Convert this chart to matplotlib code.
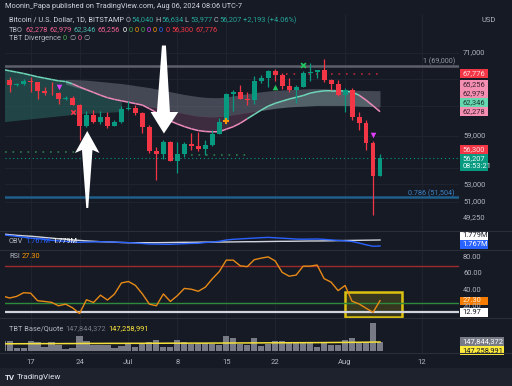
import numpy as np
import matplotlib
matplotlib.use("Agg")
import matplotlib.pyplot as plt
import matplotlib.transforms as mtransforms
from matplotlib.collections import LineCollection
from matplotlib.patches import Rectangle, Polygon
from matplotlib.ticker import NullLocator, NullFormatter

plt.rcParams['font.family'] = ['Roboto', 'DejaVu Sans']

# ------------------------------------------------------------------ data
# day index relative to Jun 17, 2024 (Jun 13 .. Aug 06)
day_index = list(range(-4, 51))
opens = [68240, 66760, 66010, 66200, 66650, 66500, 65170, 64970, 64860, 64100,
         64260, 63190, 60270, 61800, 60850, 61610, 60320, 60890, 62670, 62850,
         62030, 60200, 57040, 56650, 58240, 55850, 56700, 57980, 57720, 57330,
         57890, 59200, 60800, 64720, 65080, 64090, 63970, 66680, 67130, 68180,
         67550, 65940, 65380, 65800, 67900, 68000, 68250, 66800, 66200, 64600,
         65350, 61500, 60700, 58100, 54040]
highs = [68460, 67300, 66440, 66990, 67240, 66560, 65730, 66480, 65070, 64520,
         64520, 63370, 62340, 62480, 62370, 62180, 61150, 63000, 63800, 63270,
         62280, 60500, 57530, 58470, 58350, 58200, 58270, 59400, 59500, 58500,
         59800, 61380, 64900, 65370, 66100, 65100, 67400, 67600, 68350, 68460,
         67800, 67100, 66100, 68200, 69400, 68300, 70000, 66990, 66800, 65600,
         65600, 62200, 61100, 58300, 56634]
lows = [66300, 65070, 65880, 66060, 65100, 64070, 64690, 64560, 63400, 63940,
        63200, 58440, 60230, 60770, 60600, 60020, 60290, 60700, 62500, 61780,
        59440, 56800, 53500, 56050, 55750, 54300, 56300, 57160, 57100, 56620,
        57760, 59200, 60660, 62400, 64000, 63240, 63300, 66450, 65800, 66600,
        65450, 65100, 63450, 65750, 66700, 67050, 66550, 65300, 64520, 62300,
        61200, 59850, 57200, 49500, 53977]
closes = [66760, 66010, 66200, 66650, 66500, 65170, 64970, 64860, 64100, 64260,
          63190, 60270, 61800, 60850, 61610, 60320, 60890, 62670, 62850, 62030,
          60200, 57040, 56650, 58240, 55850, 56700, 57980, 57720, 57330, 57890,
          59200, 60800, 64720, 65080, 64090, 63970, 66680, 67130, 68180, 67550,
          65940, 65380, 65800, 67900, 68000, 68250, 66800, 66200, 64600, 65350,
          61500, 60700, 58100, 54040, 56207]

# TBO indicator lines
tbo_fast = [68400, 68200, 68000, 67800, 67550, 67300, 67100, 66900, 66700, 66600,
            66250, 65800, 65400, 65000, 64600, 64250, 64000, 63800, 63600, 63400,
            63200, 62700, 62150, 61500, 61000, 60600, 60250, 59950, 59720, 59600,
            59550, 59570, 59900, 60230, 60700, 61300, 61900, 62500, 63050, 63450,
            63750, 64050, 64300, 64550, 64900, 65100, 65230, 65250, 65250, 65200,
            65050, 64600, 63900, 63100, 62278]
tbo_fast_up = [1] * 10 + [0] * 25 + [1] * 16 + [0] * 4
tbo_band_top = [None] * 9 + [
            66900, 66900, 66850, 66800, 66700, 66600, 66500, 66400, 66300, 66150,
            66000, 65850, 65700, 65500, 65300, 65100, 64900, 64700, 64550, 64400,
            64300, 64250, 64250, 64350, 64500, 64650, 64800, 64950, 65100, 65200,
            65300, 65350, 65400, 65450, 65500, 65550, 65550, 65550, 65500, 65450,
            65400, 65350, 65300, 65280, 65260, 65256]
tbo_band_bot = [None] * 9 + [
            66200, 65900, 65600, 65300, 65000, 64700, 64400, 64150, 63900, 63650,
            63400, 63200, 63000, 62800, 62600, 62400, 62200, 62000, 61800, 61650,
            61600, 61550, 61600, 61700, 61850, 62000, 62150, 62300, 62450, 62600,
            62750, 62850, 62950, 63000, 63050, 63100, 63150, 63150, 63150, 63150,
            63150, 63100, 63050, 63020, 63000, 62979]
tbo_slow = [60900, 61000, 61100, 61200, 61300, 61400, 61500, 61600, 61700, 61800,
            61900, 62000, 62050, 62100, 62150, 62200, 62250, 62300] + [None] * 37

# signals (day, price)
sig_bear_days, sig_bear_px = [4, 49], [65790, 59100]
sig_cross_red = (6, 62290)
sig_cross_green = (39, 69070)
sig_diamond = (28, 60960)
sig_bull = (35, 65820)
level_green_1 = (-3.6, 6.4, 56890)
level_green_2 = (23, 31.4, 56600)
level_red = (36.6, 50.4, 67776)
fib_top, fib_786 = 69000, 51504
last_price = 56207

volume_m = [164, 164, 54, 44, 164, 143, 71, 143, 98, 28,
            44, 241, 164, 98, 98, 98, 44, 82, 136, 71,
            110, 143, 180, 71, 61, 180, 143, 115, 126, 126,
            110, 98, 246, 208, 110, 98, 208, 82, 110, 169,
            164, 126, 126, 126, 126, 61, 153, 98, 98, 180,
            208, 126, 153, 454, 148]
volume_ma_m = [118, 118, 119, 119, 120, 120, 121, 121, 121, 122,
               122, 123, 124, 124, 124, 125, 125, 125, 126, 126,
               126, 127, 127, 127, 128, 128, 128, 129, 129, 129,
               130, 130, 131, 131, 132, 132, 133, 133, 134, 134,
               135, 135, 136, 136, 137, 137, 138, 139, 140, 141,
               142, 143, 144, 146, 147.26]
rsi_values = [33, 30.5, 32.5, 37, 36.5, 27.2, 26.3, 25.2, 21, 23,
              18.5, 11.5, 28.4, 25, 34, 28, 35.3, 49, 50.8, 46,
              35.5, 23, 21, 35.5, 26.3, 33.4, 42.3, 41.3, 38.8, 43.8,
              54, 63, 77, 77, 70, 69, 77.5, 79.5, 81, 76,
              62, 57.3, 58.7, 69.6, 69.6, 71, 54.3, 50, 39.6, 45.9,
              26.5, 23.3, 18, 12.97, 27.3]
obv_m = [1.7894, 1.788, 1.7864, 1.7846, 1.7828, 1.7818, 1.7802, 1.7784, 1.7772, 1.7764,
         1.7752, 1.7744, 1.7748, 1.7752, 1.7756, 1.7752, 1.7748, 1.7742, 1.7738, 1.773,
         1.772, 1.771, 1.7708, 1.7704, 1.7704, 1.771, 1.7716, 1.7722, 1.7724, 1.774,
         1.775, 1.7764, 1.779, 1.7804, 1.7812, 1.782, 1.7828, 1.7836, 1.7842, 1.7834,
         1.7826, 1.7818, 1.7808, 1.7806, 1.7808, 1.781, 1.7802, 1.7792, 1.7782, 1.7772,
         1.776, 1.773, 1.7694, 1.7665, 1.767]
obv_ma_m = [1.791, 1.7896, 1.7884, 1.7874, 1.7866, 1.7854, 1.784, 1.7828, 1.7814, 1.7804,
            1.7792, 1.7782, 1.7772, 1.7764, 1.7756, 1.7752, 1.7746, 1.774, 1.7736, 1.7736,
            1.7736, 1.7736, 1.7736, 1.7738, 1.774, 1.7742, 1.7744, 1.7744, 1.7746, 1.7748,
            1.7748, 1.775, 1.775, 1.7752, 1.7754, 1.7756, 1.7756, 1.7758, 1.776, 1.7762,
            1.7764, 1.7764, 1.7766, 1.7768, 1.777, 1.777, 1.7772, 1.7774, 1.7778, 1.778,
            1.7782, 1.7784, 1.7786, 1.7788, 1.779]
rsi_upper, rsi_lower, rsi_floor = 70, 25, 12.97
rsi_box = (45.0, 53.1, 7.5, 37.5)

tick_days = [0, 7, 14, 21, 28, 35, 45, 56]
tick_labels = ['17', '24', 'Jul', '8', '15', '22', 'Aug', '12']
price_ticks = [71000, 67000, 63000, 59000, 55000, 53000, 51000]
price_tick_labels = ['71,000', '', '', '59,000', '', '53,000', '51,000']

# ------------------------------------------------------------------ style
W, H = 512, 386
BG = '#161a25'
TXT = '#b2b5be'
BULL, BEAR = '#089981', '#f23645'
fig = plt.figure(figsize=(W / 100, H / 100), dpi=100)
fig.patch.set_facecolor(BG)
renderer = fig.canvas.get_renderer()

def fy(py):
    return 1 - py / H

X0, X1 = 5, 459
def add_pane(top, bottom, log=False):
    ax = fig.add_axes([X0 / W, fy(bottom), (X1 - X0) / W, (bottom - top) / H])
    ax.set_facecolor(BG)
    if log:
        ax.set_yscale('log')
    for s in ax.spines.values():
        s.set_visible(False)
    ax.xaxis.set_major_locator(NullLocator()); ax.xaxis.set_minor_locator(NullLocator())
    ax.yaxis.set_major_locator(NullLocator()); ax.yaxis.set_minor_locator(NullLocator())
    ax.yaxis.set_major_formatter(NullFormatter()); ax.yaxis.set_minor_formatter(NullFormatter())
    ax.tick_params(which='both', left=False, bottom=False, labelleft=False, labelbottom=False)
    ax.set_xlim(-3.66, 61.3)
    for dd in tick_days:
        ax.axvline(dd, color='#1f2330', lw=0.8, zorder=0)
    return ax

ax_p = add_pane(14, 231, log=True)
ax_o = add_pane(231, 250)
ax_r = add_pane(250, 318)
ax_v = add_pane(318, 353)

d = np.array(day_index, dtype=float)
o = np.array(opens, float); c = np.array(closes, float)
hi = np.array(highs, float); lo = np.array(lows, float)

# ---- price pane
ax_p.set_ylim(47770, 77380)
for pt in price_ticks:
    ax_p.axhline(pt, color='#1f2330', lw=0.8, zorder=0)

def arr(v):
    return np.array([np.nan if x is None else x for x in v], float)

fast = arr(tbo_fast); top = arr(tbo_band_top); bot = arr(tbo_band_bot); slow = arr(tbo_slow)
ax_p.fill_between(d, fast, slow, where=~np.isnan(slow), color='#2b6a62', alpha=0.55, lw=0, zorder=1)
ax_p.fill_between(d, top, bot, where=~np.isnan(top), color='#7d8290', alpha=0.45, lw=0, zorder=1)
ax_p.fill_between(d, bot, fast, where=(fast < bot), interpolate=True, color='#6e4160', alpha=0.45, lw=0, zorder=1)
ax_p.fill_between(d, fast, bot, where=(fast > bot) & (d > 20), interpolate=True, color='#7fa9a0', alpha=0.25, lw=0, zorder=1)

pts = np.column_stack([d, fast])
segs = np.stack([pts[:-1], pts[1:]], axis=1)
seg_cols = ['#6fd6b8' if u else '#ec8bbb' for u in tbo_fast_up[:-1]]
ax_p.add_collection(LineCollection(segs, colors=seg_cols, lw=1.1, zorder=2))

# levels
ax_p.axhline(fib_top, color='#5d606b', lw=1.8, zorder=2)
ax_p.axhline(fib_786, color='#1f5f8b', lw=1.8, zorder=2)
ax_p.axhline(last_price, color=BULL, lw=0.8, ls=(0, (1, 2.5)), zorder=2)
for (a, b, v), col in [(level_green_1, '#2e7d4f'), (level_green_2, '#2e7d4f'), (level_red, '#b02a37')]:
    ax_p.plot([a, b], [v, v], color=col, lw=1.2, ls=(0, (1, 3.5)), zorder=2)

# candles
cols = np.where(c >= o, BULL, BEAR)
ax_p.vlines(d, lo, hi, colors=cols, lw=0.9, zorder=3)
body_h = np.maximum(np.abs(c - o), c * 0.0012)
ax_p.bar(d, body_h, bottom=np.minimum(o, c), width=0.7, color=cols, lw=0, zorder=4)

# signals
ax_p.scatter(sig_bear_days, sig_bear_px, marker='v', s=16, color='#e040fb', zorder=5, lw=0)
ax_p.scatter([sig_cross_red[0]], [sig_cross_red[1]], marker='x', s=10, color='#f23645', lw=1.1, zorder=5)
ax_p.scatter([sig_cross_green[0]], [sig_cross_green[1]], marker='x', s=12, color='#22c55e', lw=1.3, zorder=5)
ax_p.scatter([sig_diamond[0]], [sig_diamond[1]], marker='P', s=18, color='#ff9800', lw=0, zorder=5)
ax_p.scatter([sig_bull[0]], [sig_bull[1]], marker='^', s=16, color='#22c55e', lw=0, zorder=5)

# fib labels
tr_p = mtransforms.blended_transform_factory(fig.transFigure, ax_p.transData)
fig.text(455 / W, fib_top, '1 (69,000)', transform=tr_p, ha='right', va='bottom', fontsize=5.2, color='#9598a1')
fig.text(455 / W, fib_786, '0.786 (51,504)', transform=tr_p, ha='right', va='bottom', fontsize=5.2, color='#3b82c4')

# white arrows (annotation shapes anchored at price/day points)
def arrow(day, price, pts_px):
    tx, ty = ax_p.transData.transform((day, price))
    verts = [(tx + px, ty - py) for px, py in pts_px]
    fig.patches.append(Polygon(verts, closed=True, fc='white', ec='none', transform=None, zorder=10))

arrow(8.11, 59660, [(0, 0), (12.2, 22), (5.2, 19), (1.0, 77), (-1.0, 77), (-5.3, 19), (-12.3, 22)])
arrow(19.08, 59330, [(0, 0), (14.3, -21.5), (6, -21.5), (2, -88), (-2, -88), (-7, -21.5), (-13.3, -21.5)])

# ---- OBV pane
ax_o.set_ylim(1.759, 1.797)
ax_o.plot(d, obv_ma_m, color='#d1d4dc', lw=1.0, zorder=2)
ax_o.plot(d, obv_m, color='#2962ff', lw=1.0, zorder=3)

# ---- RSI pane
ax_r.set_ylim(5.98, 89.45)
ax_r.axhline(rsi_upper, color='#9c2b2b', lw=1.0)
ax_r.axhline(rsi_lower, color='#2e8b3e', lw=1.0)
ax_r.axhline(rsi_floor, color='#d1d4dc', lw=1.6)
bx = rsi_box
ax_r.add_patch(Rectangle((bx[0], bx[2]), bx[1] - bx[0], bx[3] - bx[2], fc='#3b3b1f', ec='#f2d30f', lw=1.8, alpha=0.9, zorder=1))
ax_r.plot(d, rsi_values, color='#e88a16', lw=1.0, zorder=3)

# ---- volume pane
ax_v.set_ylim(-33, 541)
ax_v.bar(d, volume_m, width=0.88, color='#787b86', lw=0, zorder=2)
ax_v.plot(d, volume_ma_m, color='#f5e13a', lw=1.1, zorder=3)

# ---- separators
for yy in [231, 250, 318, 353]:
    fig.add_artist(plt.Line2D([0, 1], [fy(yy), fy(yy)], color='#2a2e39', lw=0.8))
fig.add_artist(Rectangle((0, 0), 1, 18 / H, transform=fig.transFigure, fc='#1e222d', ec='none'))

# ---- time axis
for td, tl in zip(tick_days, tick_labels):
    x_fig = ax_v.transData.transform((td, 0))[0] / W
    fig.text(x_fig, fy(362), tl, ha='center', va='center', fontsize=5.5, color=TXT)

# ---- right axis labels
for pt, lab in zip(price_ticks, price_tick_labels):
    if lab:
        fig.text(463 / W, pt, lab, transform=tr_p, ha='left', va='center', fontsize=5.4, color=TXT)
fig.text(463 / W, 49250, '49,250', transform=tr_p, ha='left', va='center', fontsize=5.4, color=TXT)
tr_r = mtransforms.blended_transform_factory(fig.transFigure, ax_r.transData)
for v, lab in [(80, '80.00'), (60, '60.00'), (40, '40.00'), (20, '20.00')]:
    fig.text(463 / W, v, lab, transform=tr_r, ha='left', va='center', fontsize=5.4, color=TXT)

def axis_box(y_px, s, fc, tc, width=28):
    fig.add_artist(Rectangle((460 / W, fy(y_px + 4.3)), width / W, 8.6 / H, transform=fig.transFigure, fc=fc, ec='none'))
    fig.text(462.5 / W, fy(y_px), s, ha='left', va='center', fontsize=5.4, color=tc)

fig.text(481 / W, fy(20), 'USD', ha='left', va='center', fontsize=5.4, color=TXT)
axis_box(73.5, '67,776', '#f23645', '#ffe0e3')
axis_box(84.3, '65,256', '#f48fb1', '#3b2030')
axis_box(93.2, '62,979', '#f48fb1', '#3b2030')
axis_box(102.2, '62,346', '#66d8b0', '#1e3b33')
axis_box(111.2, '62,278', '#f48fb1', '#3b2030')
axis_box(149.3, '56,300', '#f23645', '#ffe0e3')
axis_box(158.3, '56,207', BULL, '#e6fff8')
axis_box(166.3, '08:53:21', BULL, '#e6fff8')
axis_box(235.7, '1.779M', '#ffffff', '#131722')
axis_box(244.3, '1.767M', '#2962ff', '#ffffff')
axis_box(301.0, '27.30', '#f57c00', '#fff3e0')
axis_box(312.3, '12.97', '#ffffff', '#131722')
axis_box(341.7, '147,844,372', '#787b86', '#ffffff', width=44)
axis_box(350.7, '147,258,991', '#ffeb3b', '#131722', width=44)

# ---- legends
def seq_text(x_px, y_px, pieces, size=5.3, gap=2.0):
    x = x_px
    for s, col in pieces:
        t = fig.text(x / W, fy(y_px), s, color=col, fontsize=size, ha='left', va='center')
        x += t.get_window_extent(renderer).width + gap

GRN = '#26a69a'
seq_text(5, 7, [('Moonin_Papa published on TradingView.com, Aug 06, 2024 08:06 UTC-7', '#d1d4dc')])
seq_text(9, 20, [('Bitcoin / U.S. Dollar, 1D, BITSTAMP', '#d1d4dc'), ('O', TXT), ('54,040', GRN), ('H', TXT), ('56,634', GRN),
                 ('L', TXT), ('53,977', GRN), ('C', TXT), ('56,207', GRN), ('+2,193 (+4.06%)', GRN)], gap=1.2)
seq_text(9, 30, [('TBO', TXT), ('62,278', '#f06292'), ('62,979', '#f06292'), ('62,346', '#4db6ac'), ('65,256', '#f06292'),
                 ('0', '#ffffff'), ('0', '#4caf50'), ('0', '#ff9800'), ('0', '#4caf50'), ('0', '#e040fb'),
                 ('0', '#ff9800'), ('0', '#2962ff'), ('0', '#f23645'), ('56,300', '#f23645'), ('67,776', '#f23645')])
seq_text(9, 39, [('TBT Divergence', TXT), ('0', '#4caf50'), ('\u2205', TXT), ('0', '#f06292'), ('\u2205', TXT)])
seq_text(9, 241.5, [('OBV', TXT), ('1.767M', '#2962ff'), ('1.779M', '#ffffff')])
seq_text(9, 257, [('RSI', TXT), ('27.30', '#ff9800')])
seq_text(9, 329, [('TBT Base/Quote', TXT), ('147,844,372', '#787b86'), ('147,258,991', '#ffeb3b')])
seq_text(17, 377.5, [('TradingView', '#e0e3eb')], size=5.8)
fig.text(5 / W, fy(377.5), 'TV', color='#e0e3eb', fontsize=5.8, fontweight='bold', ha='left', va='center')

fig.savefig('out.png', dpi=100, facecolor=BG)
